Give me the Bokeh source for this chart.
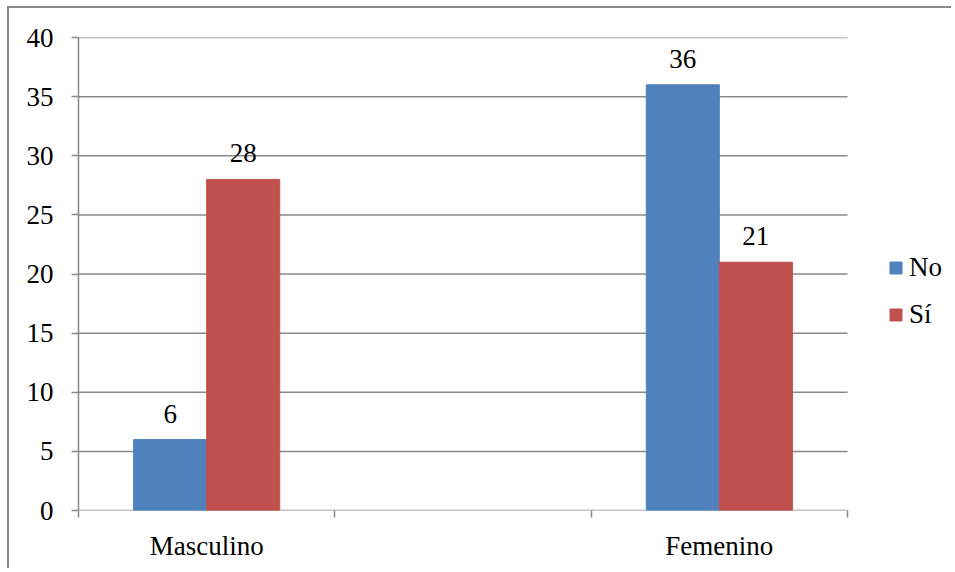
from bokeh.plotting import figure
from bokeh.models import ColumnDataSource, FixedTicker, Legend, LegendItem, Range1d
from bokeh.core.properties import value
from bokeh.embed import file_html
from bokeh.resources import INLINE

# ---- data ----
categories = ["Masculino", "", "Femenino"]
series = ["No", "Sí"]
no_values = [6, None, 36]
si_values = [28, None, 21]
y_ticks = [0, 5, 10, 15, 20, 25, 30, 35, 40]
colors = ["#4F81BD", "#C0504D"]

FONT = "'Liberation Serif', serif"
FSIZE = "27px"
GRAY = "#898989"
BAR_W = 0.285
offsets = [-BAR_W / 2, BAR_W / 2]

W, H = 944, 562
LEFT, TOP = 69, 29
PLOT_W, PLOT_H = 769, 473          # pixel size of the category area
frame_w = W - LEFT
n = len(categories)
x_end = n * frame_w / PLOT_W       # frame extends right to hold the legend

p = figure(width=W, height=H, output_backend="svg", toolbar_location=None,
           x_range=Range1d(0, x_end), y_range=Range1d(y_ticks[0], y_ticks[-1]),
           min_border_left=LEFT, min_border_right=0, min_border_top=TOP,
           min_border_bottom=H - TOP - PLOT_H)
p.outline_line_color = None
p.background_fill_color = "white"
p.border_fill_color = "white"
p.styles = {"margin": "8px 0 0 9px", "box-shadow": "-2px -2px 0 0 #898989"}

# horizontal gridlines over the category area only
p.segment(x0=[0] * len(y_ticks), x1=[n] * len(y_ticks), y0=y_ticks, y1=y_ticks,
          line_color=GRAY, line_width=1.5)

items = []
for vals, name, col, off in zip([no_values, si_values], series, colors, offsets):
    xs, ys, labels = [], [], []
    for i, v in enumerate(vals):
        if v is None:
            continue
        xs.append(i + 0.5 + off)
        ys.append(v)
        labels.append(str(v))
    src = ColumnDataSource(dict(x=xs, top=ys, label=labels))
    r = p.vbar(x="x", top="top", width=BAR_W, bottom=0, source=src,
               fill_color=col, line_color=col, line_width=1)
    p.text(x="x", y="top", text="label", source=src, text_align="center",
           text_baseline="alphabetic", y_offset=-26, text_font=value(FONT),
           text_font_size=FSIZE, text_color="black")
    items.append(LegendItem(label=name, renderers=[r]))

legend = Legend(items=items, location=(810, 180))
legend.label_text_font = FONT
legend.label_text_font_size = FSIZE
legend.label_text_color = "black"
legend.glyph_width = 15
legend.glyph_height = 15
legend.label_standoff = 6
legend.label_height = 31
legend.spacing = 16
legend.padding = 0
legend.margin = 0
legend.border_line_color = None
legend.background_fill_alpha = 0
p.add_layout(legend)

# y axis
ya = p.yaxis[0]
ya.ticker = FixedTicker(ticks=y_ticks)
ya.axis_line_color = GRAY
ya.axis_line_width = 1.5
ya.major_tick_line_color = GRAY
ya.major_tick_line_width = 1.5
ya.major_tick_out = 7
ya.major_tick_in = 0
ya.minor_tick_line_color = None
ya.major_label_standoff = 18
ya.major_label_text_font = FONT
ya.major_label_text_font_size = FSIZE
ya.major_label_text_color = "black"

# x axis
label_map = {i + 0.5: c for i, c in enumerate(categories) if c}
xa = p.xaxis[0]
xa.ticker = FixedTicker(ticks=list(label_map.keys()),
                        minor_ticks=list(range(n + 1)))
xa.major_label_overrides = label_map
xa.axis_line_color = None
xa.major_tick_line_color = None
xa.major_tick_out = 7
xa.major_tick_in = 0
xa.minor_tick_line_color = GRAY
xa.minor_tick_line_width = 1.5
xa.minor_tick_out = 7
xa.minor_tick_in = 0
xa.major_label_standoff = 13
xa.major_label_text_font = FONT
xa.major_label_text_font_size = FSIZE
xa.major_label_text_color = "black"

p.xgrid.grid_line_color = None
p.ygrid.grid_line_color = None

open("out.html", "w").write(file_html(p, INLINE))
